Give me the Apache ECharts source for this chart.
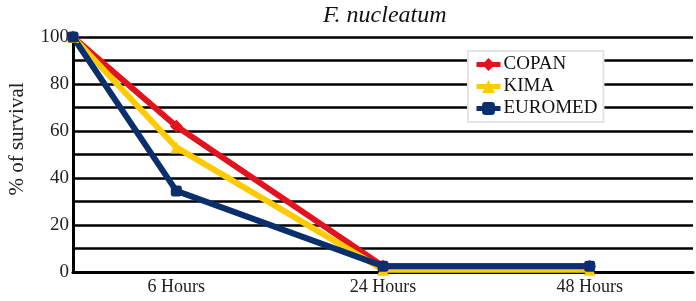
<!DOCTYPE html>
<html>
<head>
<meta charset="utf-8">
<script src="https://cdn.jsdelivr.net/npm/echarts@6/dist/echarts.min.js"></script>
<style>
  html, body { margin: 0; padding: 0; background: #fff; }
  #chart { width: 696px; height: 301px; }
</style>
</head>
<body>
<div id="chart"></div>
<script>
// blank slots keep the uneven spacing of the original x axis (start, 6h, 24h, 48h)
const categories = ['', '6 Hours', '', '24 Hours', '', '48 Hours', ''];
const copan = [100, 62, null, 2.5, null, 2.5, null];
const kima = [100, 53, null, 1, null, 1, null];
const euromed = [100, 34.5, null, 2.5, null, 2.5, null];
const yLabelStep = 20;

const SERIF = '"Liberation Serif", "DejaVu Serif", serif';

const chart = echarts.init(document.getElementById('chart'));

const lineSeries = (name, data, color, symbol, size) => ({
  name: name,
  type: 'line',
  data: data,
  connectNulls: true,
  symbol: symbol,
  symbolSize: size,
  showAllSymbol: true,
  lineStyle: { color: color, width: 6 },
  itemStyle: { color: color },
  emphasis: { disabled: true },
  animation: false
});

chart.setOption({
  animation: false,
  title: {
    text: 'F. nucleatum',
    left: 323,
    top: 4,
    padding: 0,
    textStyle: { fontFamily: SERIF, fontStyle: 'italic', fontWeight: 'normal', fontSize: 24, color: '#111' }
  },
  legend: {
    data: ['COPAN', 'KIMA', 'EUROMED'],
    orient: 'vertical',
    left: 468,
    top: 51,
    padding: [4, 6, 4, 6],
    itemWidth: 24,
    itemHeight: 16,
    itemGap: 3,
    backgroundColor: '#fff',
    borderColor: '#e4e4e4',
    borderWidth: 2,
    borderRadius: 0,
    selectedMode: false,
    lineStyle: { width: 5 },
    textStyle: { fontFamily: SERIF, fontSize: 19, color: '#111', lineHeight: 19, padding: [0, 0, 0, -2] }
  },
  graphic: [{
    type: 'text',
    x: 17,
    y: 139,
    rotation: Math.PI / 2,
    style: {
      text: '% of survival',
      align: 'center',
      verticalAlign: 'middle',
      font: '21px ' + SERIF,
      fill: '#222'
    }
  }],
  grid: { left: 73, right: -7, top: 37, bottom: 29 },
  xAxis: {
    type: 'category',
    data: categories,
    boundaryGap: false,
    axisLine: { lineStyle: { color: '#000', width: 3 } },
    axisTick: { show: false },
    axisLabel: { interval: 0, margin: 6, fontFamily: SERIF, fontSize: 18, color: '#222' },
    splitLine: { show: false }
  },
  yAxis: {
    type: 'value',
    min: 0,
    max: 100,
    interval: 10,
    axisLine: { show: true, lineStyle: { color: '#000', width: 3 } },
    axisTick: { show: false },
    axisLabel: {
      margin: 4,
      fontFamily: SERIF,
      fontSize: 19,
      color: '#222',
      formatter: v => (v % yLabelStep === 0 ? String(v) : '')
    },
    splitLine: { lineStyle: { color: '#000', width: 2.5 } }
  },
  series: [
    lineSeries('COPAN', copan, '#e2131e', 'diamond', 13),
    lineSeries('KIMA', kima, '#fdcb00', 'triangle', 12),
    lineSeries('EUROMED', euromed, '#0b2e6c', 'roundRect', 11)
  ]
});
</script>
</body>
</html>
